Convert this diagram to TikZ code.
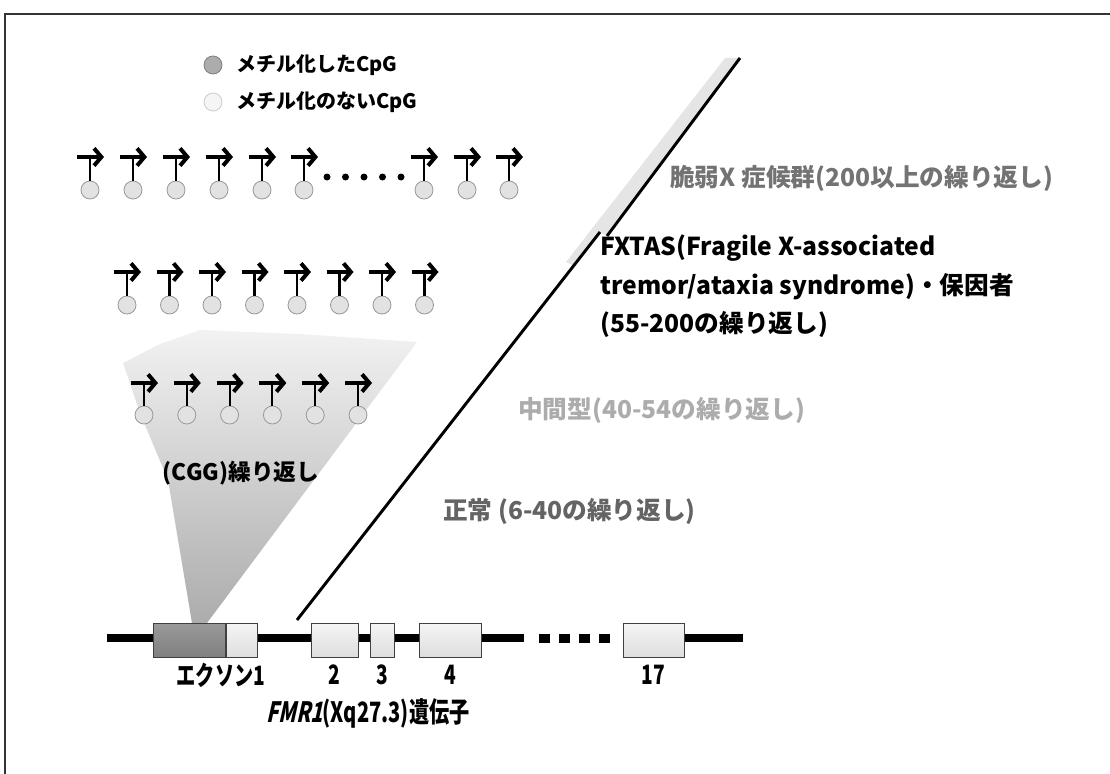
\documentclass[tikz,border=0pt]{standalone}
\usepackage{fontspec}
\setmainfont{Noto Sans CJK JP}
\newfontfamily\condjp{Noto Sans CJK JP}[FakeStretch=0.72]
\newfontfamily\condslant{Noto Sans CJK JP}[FakeStretch=0.72,FakeSlant=0.22]
\usepackage{tikz}
\usetikzlibrary{positioning,arrows.meta,calc}
\definecolor{cpglight}{RGB}{226,226,226}
\definecolor{cpgdark}{RGB}{172,172,172}
\definecolor{exonlight}{RGB}{222,222,222}
\definecolor{exondark}{RGB}{128,128,128}
\definecolor{fragilegray}{RGB}{115,115,115}
\definecolor{interm}{RGB}{172,172,172}
\definecolor{normalgray}{RGB}{100,100,100}

\tikzset{
  cpg/.style={circle,draw=gray!80,fill=cpglight,line width=0.6pt,inner sep=0pt,minimum size=13.5pt},
  tss/.style={line width=3pt,-{Straight Barb[length=5.5pt,width=13pt]}},
  stem/.style={line width=1.6pt},
  exon/.style={draw=black!75,top color=gray!8,bottom color=exonlight,line width=0.7pt,inner sep=0pt,minimum height=25.5pt},
  jtext/.style={font=\bfseries\fontsize{#1}{#1}\selectfont,inner sep=0pt},
  glabel/.style={font=\condjp\bfseries\fontsize{#1}{#1}\selectfont,inner sep=0pt},
}

\begin{document}
\begin{tikzpicture}[x=0.75pt,y=-0.75pt]
  \useasboundingbox (0,0) rectangle (1110,774);
  % frame (cut off at right and bottom)
  \draw[black!80,line width=0.9pt] (5,774) -- (5,14) -- (1110,14);

  % legend
  \node[cpg,fill=cpgdark,draw=gray] (lgm) at (213,65) {};
  \node[cpg,fill=gray!8,draw=gray!40] (lgu) at (213,102) {};
  \node[jtext=15,anchor=west,right=10pt of lgm] (lgmt) {メチル化したCpG};
  \node[jtext=15,anchor=west,right=10pt of lgu] (lgut) {メチル化のないCpG};

  % CGG fan
  \shade[top color=gray!10,bottom color=gray!65]
    (123,363) -- (160,344) -- (200,330) -- (300,334) -- (417,342)
    -- (207,623) -- (192,623) -- (168,480) -- (140,413) -- cycle;
  \node[jtext=17] (cgg) at (241,473) {(CGG)繰り返し};

  % row 1 : full mutation
  \foreach \i/\x in {1/90,2/133,3/176,4/219,5/262,6/304,7/424,8/467,9/509}{
    \node[cpg] (ca\i) at (\x,190) {};
    \coordinate (ta\i) at (\x,157);
    \coordinate (sa\i) at (\x-13,157);
    \coordinate (ea\i) at (\x+14,157);
    \draw[stem] (ta\i) -- (ca\i.north);
    \draw[tss] (sa\i) -- (ea\i);
  }
  \foreach \x in {327,345.5,364,382.5,401} \fill (\x,177) circle (3.5);

  % row 2 : premutation
  \foreach \i in {1,...,8}{
    \pgfmathsetmacro{\xx}{127+42.5*(\i-1)}
    \node[cpg] (cb\i) at (\xx,305) {};
    \coordinate (tb\i) at (\xx,272);
    \coordinate (sb\i) at (\xx-13,272);
    \coordinate (eb\i) at (\xx+14,272);
    \draw[stem] (tb\i) -- (cb\i.north);
    \draw[tss] (sb\i) -- (eb\i);
  }

  % row 3 : normal
  \foreach \i in {1,...,6}{
    \pgfmathsetmacro{\xx}{144+42.8*(\i-1)}
    \node[cpg] (cc\i) at (\xx,415) {};
    \coordinate (tc\i) at (\xx,383);
    \coordinate (sc\i) at (\xx-13,383);
    \coordinate (ec\i) at (\xx+14,383);
    \draw[stem] (tc\i) -- (cc\i.north);
    \draw[tss] (sc\i) -- (ec\i);
  }

  % repeat-length scale
  \coordinate (dlo) at (297,620);
  \coordinate (dmid) at (600,232);
  \coordinate (dmidb) at (607,236);
  \coordinate (dtop) at (740,58);
  \fill[gray!20] (dtop) -- (dmidb) -- (dmid) -- (574,266) -- (566,262)
    -- ($(dtop)+(-15,0)$) -- cycle;
  \draw[line width=2.2pt] (dlo) -- (dmid);
  \draw[line width=2.2pt] (dmidb) -- (dtop);

  \node[jtext=18.5,anchor=west,text=fragilegray] (fxs) at (670,178)
    {脆弱X 症候群(200以上の繰り返し)};
  \node[jtext=18.5,anchor=west,align=left] (fxtas) at (600,286)
    {FXTAS(Fragile X-associated\\[8pt]tremor/ataxia syndrome)・保因者\\[8pt](55-200の繰り返し)};
  \node[jtext=18.5,anchor=west,text=interm] (inter) at (518,410)
    {中間型(40-54の繰り返し)};
  \node[jtext=18.5,anchor=west,text=normalgray] (norm) at (443,511)
    {正常 (6-40の繰り返し)};

  % FMR1 gene
  \draw[line width=6pt] (107,638) -- (524,638);
  \foreach \x in {544,564,584,604} \fill (\x-5.5,633.5) rectangle (\x+5.5,642.5);
  \draw[line width=6pt] (623,638) -- (743,638);
  \node[exon,top color=exondark!80,bottom color=exondark,minimum width=54pt,anchor=west] (ex1a) at (153,640) {};
  \node[exon,minimum width=23.25pt,anchor=west] (ex1b) at (ex1a.east) {};
  \node[exon,minimum width=35.25pt] (ex2) at (334.5,640) {};
  \node[exon,minimum width=18pt] (ex3) at (382,640) {};
  \node[exon,minimum width=46.5pt] (ex4) at (450,640) {};
  \node[exon,minimum width=45.75pt] (ex17) at (653.5,640) {};

  \node[glabel=20] (lb1) at (221,675) {エクソン1};
  \node[glabel=20] (lb2) at (ex2|-lb1) {2};
  \node[glabel=20] (lb3) at (ex3|-lb1) {3};
  \node[glabel=20] (lb4) at (ex4|-lb1) {4};
  \node[glabel=20] (lb17) at (ex17|-lb1) {17};
  \node[glabel=21] (gene) at (368,713)
    {{\condslant\bfseries FMR1}(Xq27.3)遺伝子};
\end{tikzpicture}
\end{document}
